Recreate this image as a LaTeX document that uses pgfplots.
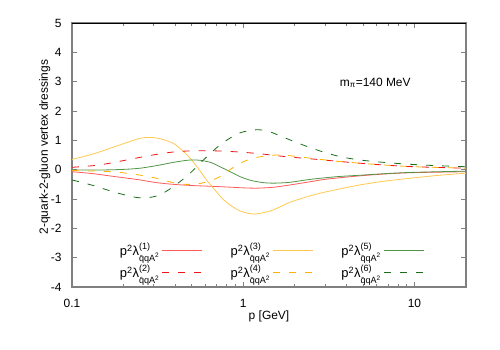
\documentclass[border=0pt]{standalone}
\usepackage{fontspec}
\setmainfont{Liberation Sans}
\usepackage{amsmath}
\usepackage{pgfplots}
\pgfplotsset{compat=1.18}

\definecolor{cRedA}{RGB}{255,90,90}
\definecolor{cRedB}{RGB}{240,20,20}
\definecolor{cYelA}{RGB}{255,200,80}
\definecolor{cYelB}{RGB}{255,176,0}
\definecolor{cGrnA}{RGB}{80,150,70}
\definecolor{cGrnB}{RGB}{25,110,25}

\newcommand{\lam}[1]{p$^{\text{2}}$λ$^{\text{(#1)}}_{\text{\=qqA}^{\text{2}}}$}

\begin{document}
\begin{tikzpicture}
\useasboundingbox (-72bp,-63bp) rectangle (428bp,287bp);
\begin{axis}[
  scale only axis,
  width=394bp, height=264bp,
  xmode=log,
  xmin=0.1, xmax=20,
  ymin=-4, ymax=5,
  ytick={-4,-3,...,5},
  xtick={0.1,1,10},
  xticklabels={0.1,1,10},
  /pgf/number format/assume math mode=true,
  font=\fontsize{12}{14}\selectfont,
  tick label style={font=\fontsize{12}{14}\selectfont},
  xticklabel style={yshift=-9bp},
  yticklabel style={xshift=-7bp},
  tick align=inside,
  major tick length=5bp,
  minor tick length=3bp,
  tick style={gray, line width=0.6bp},
  axis line style={gray, line width=1.2bp},
  xlabel={p [GeV]},
  ylabel={2-quark-2-gluon vertex dressings},
  xlabel style={at={(axis description cs:0.5,-0.11)}, anchor=center},
  ylabel style={at={(axis description cs:-0.069,0.53)}, anchor=center},
  legend columns=3,
  legend plot pos=right,
  legend cell align=left,
  legend image code/.code={\draw[#1] (0bp,0bp) -- (40bp,0bp);},
  legend style={at={(axis description cs:0.505,0.098)}, anchor=center,
    draw=none, fill=none, font=\fontsize{13}{15}\selectfont,
    inner sep=1bp, row sep=4bp,
    /tikz/every even column/.append style={column sep=26bp}},
  every axis plot/.append style={line width=0.8bp, smooth},
]

% ---- solid curves ------------------------------------------------------
\addplot[cRedA] coordinates {
  (0.1,-0.07) (0.13,-0.13) (0.17,-0.22) (0.21,-0.29) (0.25,-0.35)
  (0.31,-0.44) (0.39,-0.50) (0.5,-0.54) (0.61,-0.56) (0.8,-0.59)
  (1.0,-0.62) (1.2,-0.63) (1.5,-0.60) (1.88,-0.52) (2.47,-0.41)
  (3.1,-0.32) (4.8,-0.21) (7,-0.14) (10,-0.10) (20,-0.07)};
\addlegendentry{\lam{1}}

\addplot[cYelA] coordinates {
  (0.1,0.35) (0.13,0.52) (0.167,0.73) (0.21,0.93) (0.25,1.07) (0.286,1.10)
  (0.33,1.05) (0.39,0.90) (0.44,0.66) (0.49,0.39) (0.55,0.02) (0.61,-0.35)
  (0.69,-0.72) (0.77,-1.03) (0.86,-1.25) (0.96,-1.41) (1.07,-1.49)
  (1.17,-1.51) (1.3,-1.47) (1.5,-1.37) (1.88,-1.11) (2.5,-0.88)
  (3.08,-0.75) (4,-0.61) (4.8,-0.52) (6.5,-0.40) (9.5,-0.29) (14,-0.19)
  (20,-0.12)};
\addlegendentry{\lam{3}}

\addplot[cGrnA] coordinates {
  (0.1,-0.01) (0.15,-0.01) (0.2,0.01) (0.25,0.05) (0.32,0.15) (0.4,0.26)
  (0.49,0.33) (0.56,0.32) (0.65,0.24) (0.75,0.07) (0.86,-0.10)
  (0.96,-0.24) (1.1,-0.36) (1.3,-0.44) (1.5,-0.46) (1.88,-0.43)
  (2.47,-0.33) (3.5,-0.24) (4.8,-0.19) (7,-0.13) (10,-0.09) (20,-0.05)};
\addlegendentry{\lam{5}}

% ---- dashed curves -----------------------------------------------------
\addplot[cRedB, dash pattern=on 7bp off 9bp] coordinates {
  (0.1,0.08) (0.14,0.15) (0.18,0.26) (0.25,0.42) (0.31,0.52) (0.4,0.61)
  (0.5,0.64) (0.7,0.64) (0.96,0.60) (1.26,0.54) (1.8,0.44) (2.47,0.37)
  (3.5,0.29) (4.8,0.22) (7,0.15) (10,0.10) (20,0.05)};
\addlegendentry{\lam{2}}

\addplot[cYelB, dash pattern=on 7bp off 9bp] coordinates {
  (0.1,-0.03) (0.14,-0.05) (0.18,-0.08) (0.24,-0.17) (0.31,-0.29)
  (0.37,-0.41) (0.43,-0.49) (0.5,-0.50) (0.56,-0.47) (0.64,-0.38)
  (0.73,-0.24) (0.82,-0.04) (0.92,0.16) (1.05,0.32) (1.2,0.42) (1.57,0.50)
  (2.0,0.46) (2.47,0.39) (3.5,0.29) (4.8,0.22) (7,0.15) (10,0.10) (20,0.05)};
\addlegendentry{\lam{4}}

\addplot[cGrnB, dash pattern=on 7bp off 9bp] coordinates {
  (0.1,-0.35) (0.133,-0.54) (0.18,-0.78) (0.24,-0.95) (0.28,-0.95)
  (0.31,-0.90) (0.35,-0.76) (0.39,-0.58) (0.44,-0.35) (0.49,-0.12)
  (0.6,0.39) (0.73,0.84) (0.84,1.08) (0.94,1.24) (1.08,1.33) (1.23,1.36)
  (1.4,1.31) (1.6,1.18) (2.06,0.92) (2.7,0.67) (3.53,0.47) (4.8,0.33)
  (7.6,0.22) (12,0.15) (20,0.10)};
\addlegendentry{\lam{6}}

\node[font=\fontsize{12}{14}\selectfont] at (axis cs:5.9,2.96) {m$_{\text{π}}$=140 MeV};

\draw[black, line width=0.6bp] (rel axis cs:0,1) -- (rel axis cs:1,1);
\end{axis}
\end{tikzpicture}
\end{document}
